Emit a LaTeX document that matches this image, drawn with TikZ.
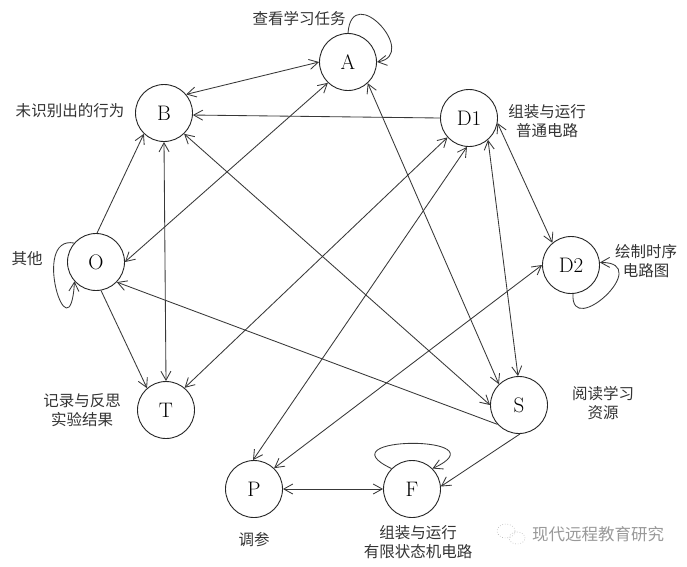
\documentclass[tikz,border=0pt]{standalone}
\usepackage{fontspec}
\newfontfamily\cjk{Noto Sans CJK SC}
\usetikzlibrary{arrows.meta}
\begin{document}
\begin{tikzpicture}[x=1pt,y=-1pt,
  >={Straight Barb[length=9pt,width=10pt]},
  st/.style={circle,draw=black!85,line width=0.9pt,minimum size=57pt,inner sep=0pt,font=\fontsize{21}{21}\selectfont},
  lbl/.style={font=\cjk\fontsize{15.5}{19.5}\selectfont,align=center,text=black!80,inner sep=0pt},
  ed/.style={draw=black!78,line width=0.85pt},
  wmk/.style={font=\cjk\fontsize{16.5}{16.5}\selectfont,text=black!40,inner sep=0pt}]
\useasboundingbox[fill=white] (0,0) rectangle (687,566);
% states
\node[st] (A) at (348,62) {A};
\node[st] (B) at (164,113) {B};
\node[st] (D1) at (469,118) {D1};
\node[st] (D2) at (571,265) {D2};
\node[st] (O) at (96,262) {O};
\node[st] (T) at (166,410) {T};
\node[st] (S) at (519,405) {S};
\node[st] (P) at (254,489) {P};
\node[st] (F) at (412,489) {F};
% connectors
\draw[ed,<->] (B.40) -- (A.180);
\draw[ed,->] (A.90) .. controls (352,-20) and (420,55) .. (A.0);
\draw[ed,->] (D1.180) -- (B.-4);
\draw[ed,<->] (O.0) -- (A.226);
\draw[ed,->] (O.88) -- (B.226);
\draw[ed,->] (O.139) .. controls (30,235) and (70,360) .. (O.222);
\draw[ed,<->] (B.270) -- (T.90);
\draw[ed,->] (O.280) -- (T.131);
\draw[ed,->] (S.222) -- (O.316);
\draw[ed,<->] (T.50) -- (D1.222);
\draw[ed,<->] (P.92) -- (D1.266);
\draw[ed,<->] (P.46) -- (D2.180);
\draw[ed,<->] (D1.-10) -- (D2.130);
\draw[ed,->] (D2.-86) .. controls (570,340) and (655,262) .. (D2.5);
\draw[ed,<->] (D1.311) -- (S.92);
\draw[ed,<->] (A.313) -- (S.134);
\draw[ed,<->] (B.314) -- (S.180);
\draw[ed,->] (S.272) -- (F.5);
\draw[ed,->] (F.135) .. controls (320,435) and (505,435) .. (F.45);
\draw[ed,<->] (P.0) -- (F.180);
% labels
\node[lbl] (lA) at (299,19) {查看学习任务};
\node[lbl] (lB) at (70,111) {未识别出的行为};
\node[lbl] (lD1) at (547,121) {组装与运行\\普通电路};
\node[lbl] (lD2) at (646,261) {绘制时序\\电路图};
\node[lbl] (lO) at (27,259) {其他};
\node[lbl] (lT) at (82,410) {记录与反思\\实验结果};
\node[lbl] (lS) at (603,403) {阅读学习\\资源};
\node[lbl] (lP) at (254,540) {调参};
\node[lbl] (lF) at (418,542) {组装与运行\\有限状态机电路};
% watermark
\draw[black!30,line width=0.6pt,dotted] (506,531) ellipse (9pt and 7pt);
\draw[black!30,line width=0.6pt,dotted] (517,538) ellipse (8pt and 6pt);
\node[wmk] (wm) at (598,534) {现代远程教育研究};
\end{tikzpicture}
\end{document}
